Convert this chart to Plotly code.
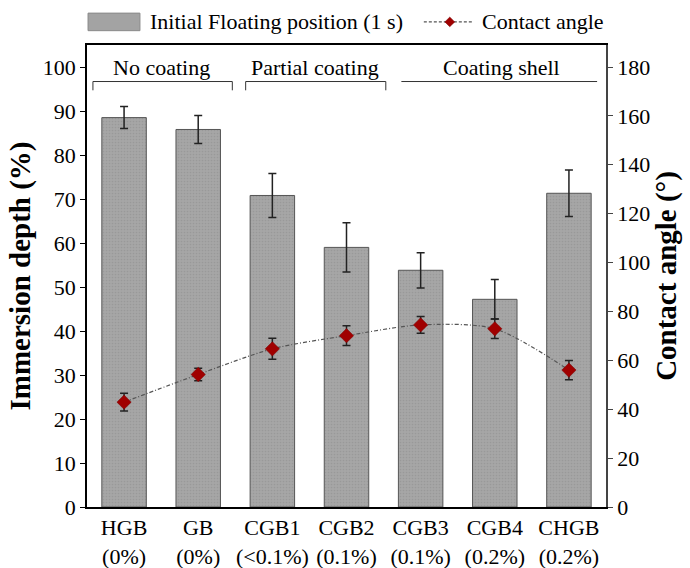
import plotly.graph_objects as go

categories = ["HGB<br>(0%)", "GB<br>(0%)", "CGB1<br>(<0.1%)", "CGB2<br>(0.1%)",
              "CGB3<br>(0.1%)", "CGB4<br>(0.2%)", "CHGB<br>(0.2%)"]
immersion = [88.5, 85.8, 70.8, 59.0, 53.8, 47.2, 71.3]
immersion_err = [2.5, 3.2, 5.0, 5.6, 4.0, 4.5, 5.3]
contact_angle = [42.9, 54.2, 64.7, 70.1, 74.5, 72.9, 56.0]
contact_err = [3.6, 2.6, 4.3, 4.0, 3.4, 4.0, 3.9]
left_ticks = list(range(0, 101, 10))
right_ticks = list(range(0, 181, 20))
groups = ["No coating", "Partial coating", "Coating shell"]

xs = list(range(len(categories)))
FONT = "Liberation Serif"

fig = go.Figure()
fig.add_trace(go.Bar(
    x=xs, y=immersion, width=0.6, yaxis="y",
    marker=dict(color="#a3a3a3", line=dict(color="#555555", width=1),
                pattern=dict(shape=".", size=3, solidity=0.25, fgcolor="#8c8c8c", bgcolor="#a6a6a6")),
    error_y=dict(type="data", array=immersion_err, color="#222222", thickness=1.5, width=4),
    showlegend=False,
))
fig.add_trace(go.Scatter(
    x=xs, y=contact_angle, yaxis="y2", mode="lines+markers",
    line=dict(color="#555555", width=1.2, dash="4px,2px,1px,2px", shape="spline", smoothing=0.8),
    marker=dict(symbol="diamond", size=11, color="#a00000", line=dict(color="#7a0000", width=0.5)),
    error_y=dict(type="data", array=contact_err, color="#222222", thickness=1.5, width=4),
    showlegend=False,
))

# group brackets (data coords, left axis)
brackets = [(-0.42, 1.46, True), (1.64, 3.53, True), (3.74, 6.38, False)]
label_x = [0.51, 2.57, 5.09]
shapes = []
annotations = []
for (x0, x1, ends), name, lx in zip(brackets, groups, label_x):
    shapes.append(dict(type="line", xref="x", yref="y", x0=x0, x1=x1, y0=96.7, y1=96.7,
                       line=dict(color="#333333", width=1)))
    if ends:
        for xe in (x0, x1):
            shapes.append(dict(type="line", xref="x", yref="y", x0=xe, x1=xe, y0=96.7, y1=94.7,
                               line=dict(color="#333333", width=1)))
    annotations.append(dict(x=lx, y=99.8, xref="x", yref="y", text=name, showarrow=False,
                            font=dict(family=FONT, size=22, color="black")))

# custom legend
LY = 1.050
shapes.append(dict(type="rect", xref="paper", yref="paper", x0=0.002, x1=0.102, y0=LY - 0.019, y1=LY + 0.019,
                   line=dict(color="#8a8a8a", width=1), fillcolor="#a3a3a3"))
annotations.append(dict(x=0.118, y=LY, xref="paper", yref="paper", xanchor="left", yanchor="middle",
                        text="Initial Floating position (1 s)", showarrow=False,
                        font=dict(family=FONT, size=22, color="black")))
shapes.append(dict(type="line", xref="paper", yref="paper", x0=0.649, x1=0.744, y0=LY, y1=LY,
                   line=dict(color="#555555", width=1.2, dash="3px,2px")))
cx, cy, dx, dy = 0.699, LY, 0.0095, 0.0105
shapes.append(dict(type="path", xref="paper", yref="paper",
                   path=f"M {cx-dx},{cy} L {cx},{cy+dy} L {cx+dx},{cy} L {cx},{cy-dy} Z",
                   fillcolor="#a00000", line=dict(color="#7a0000", width=0.5)))
annotations.append(dict(x=0.758, y=LY, xref="paper", yref="paper", xanchor="left", yanchor="middle",
                        text="Contact angle", showarrow=False,
                        font=dict(family=FONT, size=22, color="black")))

fig.update_layout(
    width=690, height=568,
    margin=dict(l=87, r=84, t=45, b=61),
    plot_bgcolor="white", paper_bgcolor="white",
    font=dict(family=FONT, size=22, color="black"),
    bargap=0.4,
    xaxis=dict(range=[-0.5, 6.5], tickmode="array", tickvals=xs, ticktext=categories,
               showline=True, linecolor="black", linewidth=1.5, mirror=True,
               ticks="", showgrid=False, zeroline=False, automargin=False,
               tickfont=dict(family=FONT, size=22)),
    yaxis=dict(range=[0, 105], tickmode="array", tickvals=left_ticks,
               showline=True, linecolor="black", linewidth=1.5, ticks="outside", ticklen=5,
               tickcolor="black", showgrid=False, zeroline=False, automargin=False,
               tickfont=dict(family=FONT, size=22),
               title=dict(text="<b>Immersion depth (%)</b>", font=dict(family=FONT, size=29), standoff=4)),
    yaxis2=dict(range=[0, 189], tickmode="array", tickvals=right_ticks, overlaying="y", side="right",
                showline=True, linecolor="#444444", linewidth=1.5, ticks="outside", ticklen=5,
                tickcolor="#444444", showgrid=False, zeroline=False, automargin=False,
                tickfont=dict(family=FONT, size=22),
                title=dict(text="<b>Contact angle (°)</b>", font=dict(family=FONT, size=29), standoff=6)),
    shapes=shapes,
    annotations=annotations,
)

fig.write_html("out.html")
